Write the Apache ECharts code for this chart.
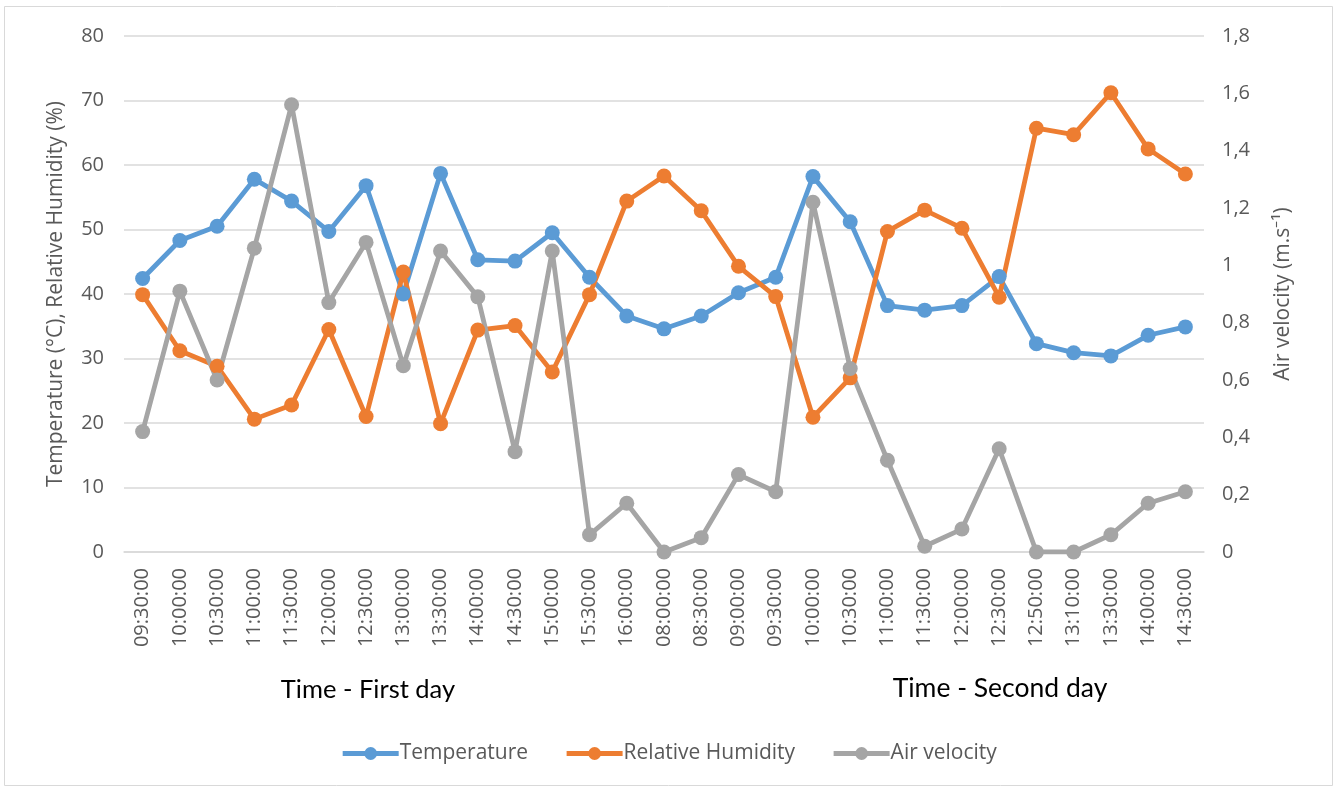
<!DOCTYPE html>
<html>
<head>
<meta charset="utf-8">
<title>Temperature, Relative Humidity and Air velocity</title>
<script src="https://cdn.jsdelivr.net/npm/echarts@6/dist/echarts.min.js"></script>
<style>
  html, body { margin: 0; padding: 0; background: #ffffff; }
  #chart { width: 1337px; height: 788px; }
</style>
</head>
<body>
<div id="chart"></div>
<script>
// Sampling times over two days of measurements
const times = [
  '09:30:00', '10:00:00', '10:30:00', '11:00:00', '11:30:00', '12:00:00',
  '12:30:00', '13:00:00', '13:30:00', '14:00:00', '14:30:00', '15:00:00',
  '15:30:00', '16:00:00',
  '08:00:00', '08:30:00', '09:00:00', '09:30:00', '10:00:00', '10:30:00',
  '11:00:00', '11:30:00', '12:00:00', '12:30:00', '12:50:00', '13:10:00',
  '13:30:00', '14:00:00', '14:30:00'
];

// Temperature (°C)
const temperature = [
  42.4, 48.3, 50.5, 57.8, 54.4, 49.7, 56.8, 40.0, 58.7, 45.3, 45.1, 49.5,
  42.6, 36.6,
  34.6, 36.6, 40.2, 42.6, 58.2, 51.2, 38.2, 37.5, 38.2, 42.7, 32.3, 30.9,
  30.4, 33.6, 34.9
];

// Relative humidity (%)
const humidity = [
  39.9, 31.2, 28.8, 20.6, 22.8, 34.5, 21.0, 43.4, 19.9, 34.4, 35.1, 27.9,
  39.9, 54.4,
  58.3, 52.9, 44.3, 39.6, 20.9, 27.0, 49.7, 53.0, 50.2, 39.5, 65.7, 64.7,
  71.2, 62.5, 58.6
];

// Air velocity (m/s)
const airVelocity = [
  0.42, 0.91, 0.60, 1.06, 1.56, 0.87, 1.08, 0.65, 1.05, 0.89, 0.35, 1.05,
  0.06, 0.17,
  0.00, 0.05, 0.27, 0.21, 1.22, 0.64, 0.32, 0.02, 0.08, 0.36, 0.00, 0.00,
  0.06, 0.17, 0.21
];

const seriesNames = ['Temperature', 'Relative Humidity', 'Air velocity'];
const seriesColors = ['#5B9BD5', '#ED7D31', '#A5A5A5'];

const textColor = '#595959';
const gridColor = '#D9D9D9';
const tickFont = 'Open Sans';

function lineSeries(idx, data, yAxisIndex) {
  return {
    name: seriesNames[idx],
    type: 'line',
    yAxisIndex: yAxisIndex,
    data: data,
    symbol: 'circle',
    symbolSize: 15,
    showAllSymbol: true,
    color: seriesColors[idx],
    lineStyle: { width: 4.8, color: seriesColors[idx] },
    itemStyle: { color: seriesColors[idx] },
    emphasis: { disabled: true },
    animation: false
  };
}

const chart = echarts.init(document.getElementById('chart'), null, { renderer: 'canvas' });

chart.setOption({
  backgroundColor: '#ffffff',
  animation: false,
  grid: { left: 124, right: 133, top: 36, bottom: 236, containLabel: false },
  legend: {
    bottom: 19,
    left: 'center',
    itemWidth: 56,
    itemHeight: 16,
    itemGap: 36,
    data: seriesNames,
    lineStyle: { width: 5 },
    textStyle: { color: textColor, fontSize: 21, fontFamily: tickFont, padding: [0, 0, 0, -4] }
  },
  xAxis: {
    type: 'category',
    data: times,
    boundaryGap: true,
    axisLine: { show: true, lineStyle: { color: gridColor, width: 1.5 } },
    axisTick: { show: false },
    axisLabel: {
      interval: 0,
      rotate: 90,
      margin: 16,
      color: textColor,
      fontSize: 20,
      fontFamily: tickFont
    }
  },
  yAxis: [
    {
      type: 'value',
      min: 0,
      max: 80,
      interval: 10,
      name: 'Temperature (°C), Relative Humidity (%)',
      nameLocation: 'middle',
      nameGap: 57,
      nameRotate: 90,
      nameTextStyle: { color: textColor, fontSize: 21, fontFamily: tickFont },
      axisLine: { show: false },
      axisTick: { show: false },
      axisLabel: { color: textColor, fontSize: 20, fontFamily: tickFont, margin: 20 },
      splitLine: { show: true, lineStyle: { color: gridColor, width: 1.5 } }
    },
    {
      type: 'value',
      position: 'right',
      min: 0,
      max: 1.8,
      interval: 0.2,
      name: 'Air velocity (m.s⁻¹)',
      nameLocation: 'middle',
      nameGap: 69,
      nameRotate: 90,
      nameTextStyle: { color: textColor, fontSize: 21, fontFamily: tickFont },
      axisLine: { show: false },
      axisTick: { show: false },
      axisLabel: {
        color: textColor,
        fontSize: 20,
        fontFamily: tickFont,
        margin: 18,
        align: 'left',
        formatter: function (v) {
          return String(Math.round(v * 10) / 10).replace('.', ',');
        }
      },
      splitLine: { show: false }
    }
  ],
  graphic: [
    {
      type: 'rect',
      shape: { x: 4.5, y: 6.5, width: 1328, height: 779 },
      style: { fill: null, stroke: gridColor, lineWidth: 1 },
      silent: true,
      z: -1
    },
    {
      type: 'text',
      x: 368,
      y: 690,
      style: {
        text: 'Time - First day',
        fill: '#000000',
        font: '25.5px Lato',
        textAlign: 'center',
        textVerticalAlign: 'middle'
      },
      silent: true
    },
    {
      type: 'text',
      x: 1000,
      y: 688,
      style: {
        text: 'Time - Second day',
        fill: '#000000',
        font: '26.5px Lato',
        textAlign: 'center',
        textVerticalAlign: 'middle'
      },
      silent: true
    }
  ],
  series: [
    lineSeries(0, temperature, 0),
    lineSeries(1, humidity, 0),
    lineSeries(2, airVelocity, 1)
  ]
});
</script>
</body>
</html>
